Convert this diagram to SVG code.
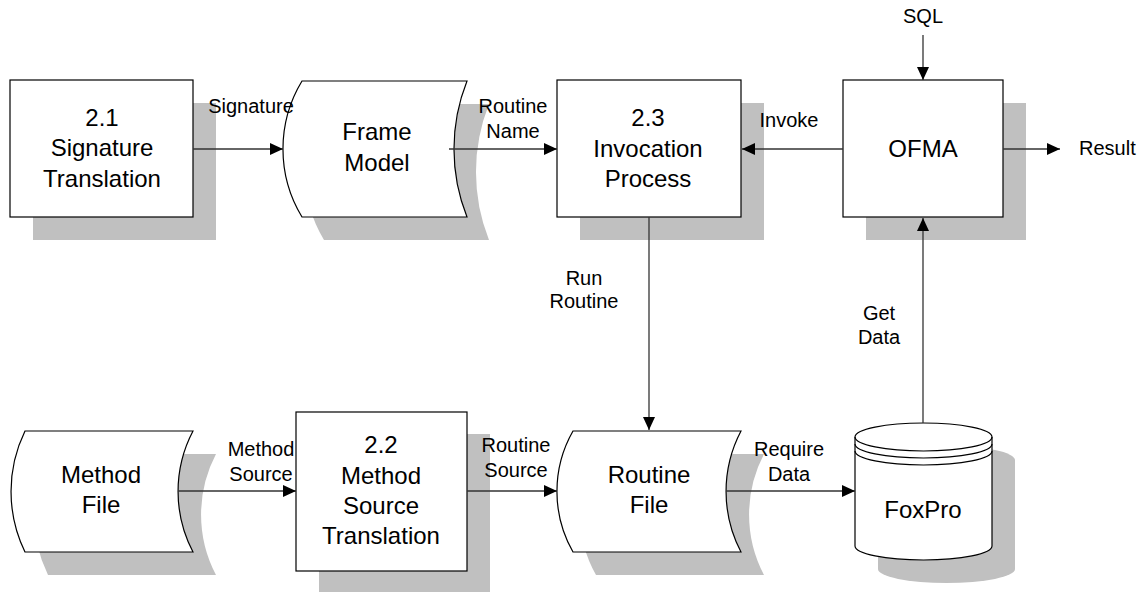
<svg xmlns="http://www.w3.org/2000/svg" width="1144" height="592" viewBox="0 0 1144 592">
  <defs>
    <marker id="arrow" markerUnits="userSpaceOnUse" markerWidth="13" markerHeight="12" refX="13" refY="6" orient="auto">
      <path d="M0,0 L13,6 L0,12 Z" fill="#000"/>
    </marker>
    <style>
      .shadow { fill: #c0c0c0; stroke: none; }
      .shape { fill: #fff; stroke: #000; stroke-width: 1.2; }
      .title { font-family: "Liberation Sans", Arial, sans-serif; font-size: 24px; fill: #000; text-anchor: middle; }
      .label { font-family: "Liberation Sans", Arial, sans-serif; font-size: 20px; fill: #000; text-anchor: middle; }
      .flow { fill: none; stroke: #333; stroke-width: 1.3; marker-end: url(#arrow); }
    </style>
  </defs>
  <rect width="1144" height="592" fill="#fff"/>

  <!-- 2.1 Signature Translation -->
  <g id="proc-2-1">
    <rect class="shadow" x="33" y="103" width="183" height="137"/>
    <rect class="shape" x="10" y="80" width="183" height="137"/>
    <text class="title" x="102" y="126">2.1</text>
    <text class="title" x="102" y="156">Signature</text>
    <text class="title" x="102" y="187">Translation</text>
  </g>

  <!-- Frame Model data store -->
  <g id="store-frame-model">
    <path class="shadow" transform="translate(22,23)" d="M302,81 H467 A184,184 0 0 0 467,217 H302 A131,131 0 0 1 302,81 Z"/>
    <path class="shape" d="M302,81 H467 A184,184 0 0 0 467,217 H302 A131,131 0 0 1 302,81 Z"/>
    <text class="title" x="377" y="140">Frame</text>
    <text class="title" x="377" y="171">Model</text>
  </g>

  <!-- 2.3 Invocation Process -->
  <g id="proc-2-3">
    <rect class="shadow" x="580" y="103" width="184" height="137"/>
    <rect class="shape" x="557" y="80" width="184" height="137"/>
    <text class="title" x="648" y="126">2.3</text>
    <text class="title" x="648" y="157">Invocation</text>
    <text class="title" x="648" y="187">Process</text>
  </g>

  <!-- OFMA -->
  <g id="ofma">
    <rect class="shadow" x="866" y="103" width="160" height="137"/>
    <rect class="shape" x="843" y="80" width="160" height="137"/>
    <text class="title" x="923" y="157">OFMA</text>
  </g>

  <!-- Method File data store -->
  <g id="store-method-file">
    <path class="shadow" transform="translate(23,23)" d="M25,431 H193 A130,130 0 0 0 193,552 H25 A138,138 0 0 1 25,431 Z"/>
    <path class="shape" d="M25,431 H193 A130,130 0 0 0 193,552 H25 A138,138 0 0 1 25,431 Z"/>
    <text class="title" x="101" y="483">Method</text>
    <text class="title" x="101" y="513">File</text>
  </g>

  <!-- 2.2 Method Source Translation -->
  <g id="proc-2-2">
    <rect class="shadow" x="319" y="434" width="171" height="159"/>
    <rect class="shape" x="296" y="412" width="171" height="159"/>
    <text class="title" x="381" y="453">2.2</text>
    <text class="title" x="381" y="484">Method</text>
    <text class="title" x="381" y="514">Source</text>
    <text class="title" x="381" y="544">Translation</text>
  </g>

  <!-- Routine File data store -->
  <g id="store-routine-file">
    <path class="shadow" transform="translate(23,23)" d="M573,431 H741 A130,130 0 0 0 741,552 H573 A122,122 0 0 1 573,431 Z"/>
    <path class="shape" d="M573,431 H741 A130,130 0 0 0 741,552 H573 A122,122 0 0 1 573,431 Z"/>
    <text class="title" x="649" y="483">Routine</text>
    <text class="title" x="649" y="513">File</text>
  </g>

  <!-- FoxPro database -->
  <g id="db-foxpro">
    <path class="shadow" transform="translate(23,23)" d="M855,437 A68.5,14 0 0 1 992,437 V546 A68.5,14 0 0 1 855,546 Z"/>
    <path class="shape" d="M855,437 A68.5,14 0 0 1 992,437 V546 A68.5,14 0 0 1 855,546 Z"/>
    <path fill="none" stroke="#000" stroke-width="1.2" d="M855,437 A68.5,14 0 0 0 992,437 M855,444 A68.5,14 0 0 0 992,444 M855,451 A68.5,14 0 0 0 992,451"/>
    <text class="title" x="923" y="518">FoxPro</text>
  </g>

  <!-- Data flows -->
  <g id="connectors">
    <path class="flow" d="M193,149 H283"/>
    <path class="flow" d="M449,149 H557"/>
    <path class="flow" d="M843,149 H742"/>
    <path class="flow" d="M923,35 V80"/>
    <path class="flow" d="M1003,149 H1060"/>
    <path class="flow" d="M649,217 V430"/>
    <path class="flow" d="M923,423 V218"/>
    <path class="flow" d="M178,491 H296"/>
    <path class="flow" d="M467,491 H557"/>
    <path class="flow" d="M726,491 H855"/>

    <text class="label" x="251" y="113">Signature</text>
    <text class="label" x="513" y="113">Routine</text>
    <text class="label" x="513" y="138">Name</text>
    <text class="label" x="789" y="127">Invoke</text>
    <text class="label" x="923" y="23">SQL</text>
    <text class="label" x="1079" y="155" style="text-anchor:start">Result</text>
    <text class="label" x="584" y="285">Run</text>
    <text class="label" x="584" y="308">Routine</text>
    <text class="label" x="879" y="320">Get</text>
    <text class="label" x="879" y="344">Data</text>
    <text class="label" x="261" y="456">Method</text>
    <text class="label" x="261" y="481">Source</text>
    <text class="label" x="516" y="452">Routine</text>
    <text class="label" x="516" y="477">Source</text>
    <text class="label" x="789" y="456">Require</text>
    <text class="label" x="789" y="481">Data</text>
  </g>
</svg>
